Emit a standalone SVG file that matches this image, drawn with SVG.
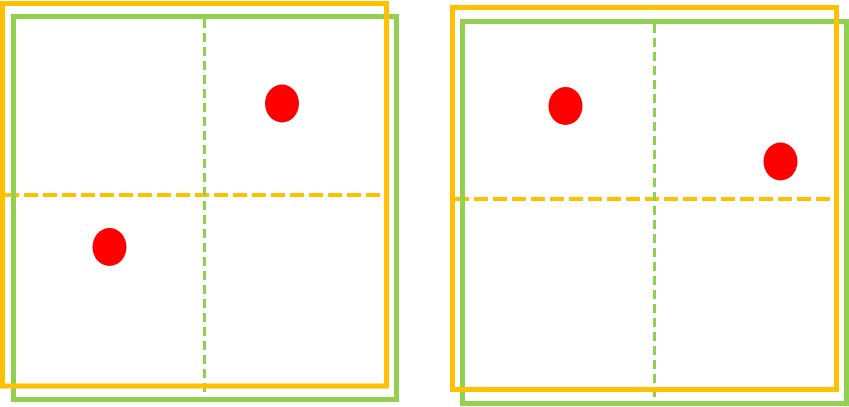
<svg xmlns="http://www.w3.org/2000/svg" width="849" height="407" viewBox="0 0 849 407">
<style>
.o{fill:none;stroke:#FFC000;stroke-width:5}
.g{fill:none;stroke:#92D050;stroke-width:5}
.od{fill:none;stroke:#FFC000;stroke-width:4;stroke-dasharray:14 5}
.gd{fill:none;stroke:#92D050;stroke-width:3;stroke-dasharray:9 5}
.dot{fill:#FF0000}
</style>
<rect width="849" height="407" fill="#fff"/>
<g id="left">
<line class="od" x1="5" y1="195" x2="385" y2="195"/>
<rect class="g" x="13.5" y="16.5" width="383" height="383"/>
<line class="gd" x1="204.5" y1="19" x2="204.5" y2="397"/>
<rect class="o" x="2.5" y="3.5" width="384" height="382.5"/>
<ellipse class="dot" cx="282" cy="103.5" rx="17" ry="19"/>
<ellipse class="dot" cx="109.5" cy="247" rx="17" ry="19"/>
</g>
<g id="right">
<line class="od" x1="455" y1="199" x2="835" y2="199"/>
<rect class="g" x="462.5" y="21.5" width="384" height="382"/>
<line class="gd" x1="654.5" y1="24" x2="654.5" y2="401"/>
<rect class="o" x="452.5" y="7.5" width="384" height="382"/>
<ellipse class="dot" cx="565.5" cy="106" rx="17" ry="19"/>
<ellipse class="dot" cx="780.5" cy="161.5" rx="17" ry="19"/>
</g>
<g id="connectors"/>
</svg>
